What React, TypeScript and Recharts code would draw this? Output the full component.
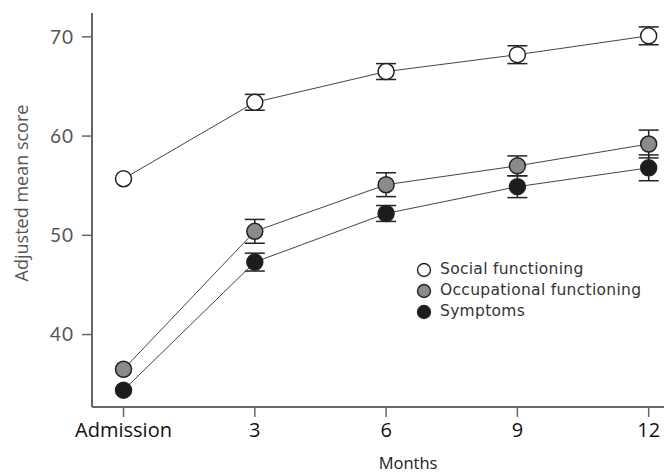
import React from 'react';
import { LineChart, Line, XAxis, YAxis, ErrorBar, Legend } from 'recharts';

const months = [0, 3, 6, 9, 12];
const monthLabels = ['Admission', '3', '6', '9', '12'];
const yTicks = [40, 50, 60, 70];

const social = [55.7, 63.4, 66.5, 68.2, 70.1];
const socialErr = [null, 0.8, 0.8, 0.9, 0.9];
const occupational = [36.5, 50.4, 55.1, 57.0, 59.2];
const occupationalErr = [null, 1.2, 1.2, 1.0, 1.4];
const symptoms = [34.4, 47.3, 52.2, 54.9, 56.8];
const symptomsErr = [null, 0.9, 0.8, 1.1, 1.3];

const seriesNames = ['Social functioning', 'Occupational functioning', 'Symptoms'];
const seriesFills = ['#ffffff', '#8a8a8a', '#1c1c1c'];

const data = months.map((m, i) => ({
  month: m,
  social: social[i],
  socialErr: socialErr[i],
  occupational: occupational[i],
  occupationalErr: occupationalErr[i],
  symptoms: symptoms[i],
  symptomsErr: symptomsErr[i],
}));

const labelFor = (v: number) => {
  const i = months.indexOf(v);
  return i >= 0 ? monthLabels[i] : String(v);
};

const LegendContent = () => (
  <div style={{ fontFamily: '"DejaVu Sans", sans-serif', fontSize: 15.5, letterSpacing: 0.3, color: '#333', lineHeight: '21px' }}>
    {seriesNames.map((n, i) => (
      <div key={n} style={{ display: 'flex', alignItems: 'center', height: 21 }}>
        <svg width={22} height={18} style={{ marginRight: 3 }}>
          <circle cx={9} cy={9} r={6.5} fill={seriesFills[i]} stroke="#222" strokeWidth={1.4} />
        </svg>
        <span>{n}</span>
      </div>
    ))}
  </div>
);

const YLabel = () => (
  <text
    transform="translate(23,193) rotate(-90)"
    textAnchor="middle"
    dominantBaseline="middle"
    fill="#555"
    fontSize={18}
    fontFamily='"Open Sans", sans-serif'
  >
    Adjusted mean score
  </text>
);

const dot = (fill: string) => ({ r: 8, fill, stroke: '#222', strokeWidth: 1.5 });

export default function App() {
  return (
    <div style={{ position: 'absolute', left: 0, top: 0, width: 664, height: 475, background: '#fff' }}>
      <LineChart width={664} height={475} data={data} margin={{ top: 13, right: 0, bottom: 38, left: 32 }}>
        <XAxis
          dataKey="month"
          type="number"
          domain={[-0.72, 12.35]}
          ticks={months}
          tickFormatter={labelFor}
          allowDataOverflow
          height={30}
          axisLine={{ stroke: '#666', strokeWidth: 2 }}
          tickLine={{ stroke: '#666', strokeWidth: 1.5 }}
          tickSize={10}
          tickMargin={6}
          tick={{ fill: '#111', fontSize: 20, fontFamily: '"Open Sans", sans-serif' }}
          label={{ value: 'Months', position: 'insideBottom', offset: -32, dx: 30, fill: '#222', fontSize: 16.5, fontFamily: '"Open Sans", sans-serif' }}
        />
        <YAxis
          type="number"
          domain={[32.7, 72.4]}
          ticks={yTicks}
          allowDataOverflow
          width={60}
          axisLine={{ stroke: '#666', strokeWidth: 2 }}
          tickLine={{ stroke: '#666', strokeWidth: 1.5 }}
          tickSize={10}
          tickMargin={8}
          tick={{ fill: '#555', fontSize: 19, letterSpacing: 1, fontFamily: 'Lato, "Open Sans", sans-serif' }}
          label={{ content: <YLabel /> }}
        />
        <Legend
          verticalAlign="middle"
          align="center"
          layout="vertical"
          content={<LegendContent />}
          wrapperStyle={{ left: 415, top: 259, width: 249 }}
        />
        <Line dataKey="social" name={seriesNames[0]} stroke="#444" strokeWidth={1} isAnimationActive={false} dot={dot(seriesFills[0])} activeDot={false}>
          <ErrorBar dataKey="socialErr" direction="y" width={10} stroke="#222" strokeWidth={1.5} />
        </Line>
        <Line dataKey="occupational" name={seriesNames[1]} stroke="#444" strokeWidth={1} isAnimationActive={false} dot={dot(seriesFills[1])} activeDot={false}>
          <ErrorBar dataKey="occupationalErr" direction="y" width={10} stroke="#222" strokeWidth={1.5} />
        </Line>
        <Line dataKey="symptoms" name={seriesNames[2]} stroke="#444" strokeWidth={1} isAnimationActive={false} dot={dot(seriesFills[2])} activeDot={false}>
          <ErrorBar dataKey="symptomsErr" direction="y" width={10} stroke="#222" strokeWidth={1.5} />
        </Line>
      </LineChart>
    </div>
  );
}
